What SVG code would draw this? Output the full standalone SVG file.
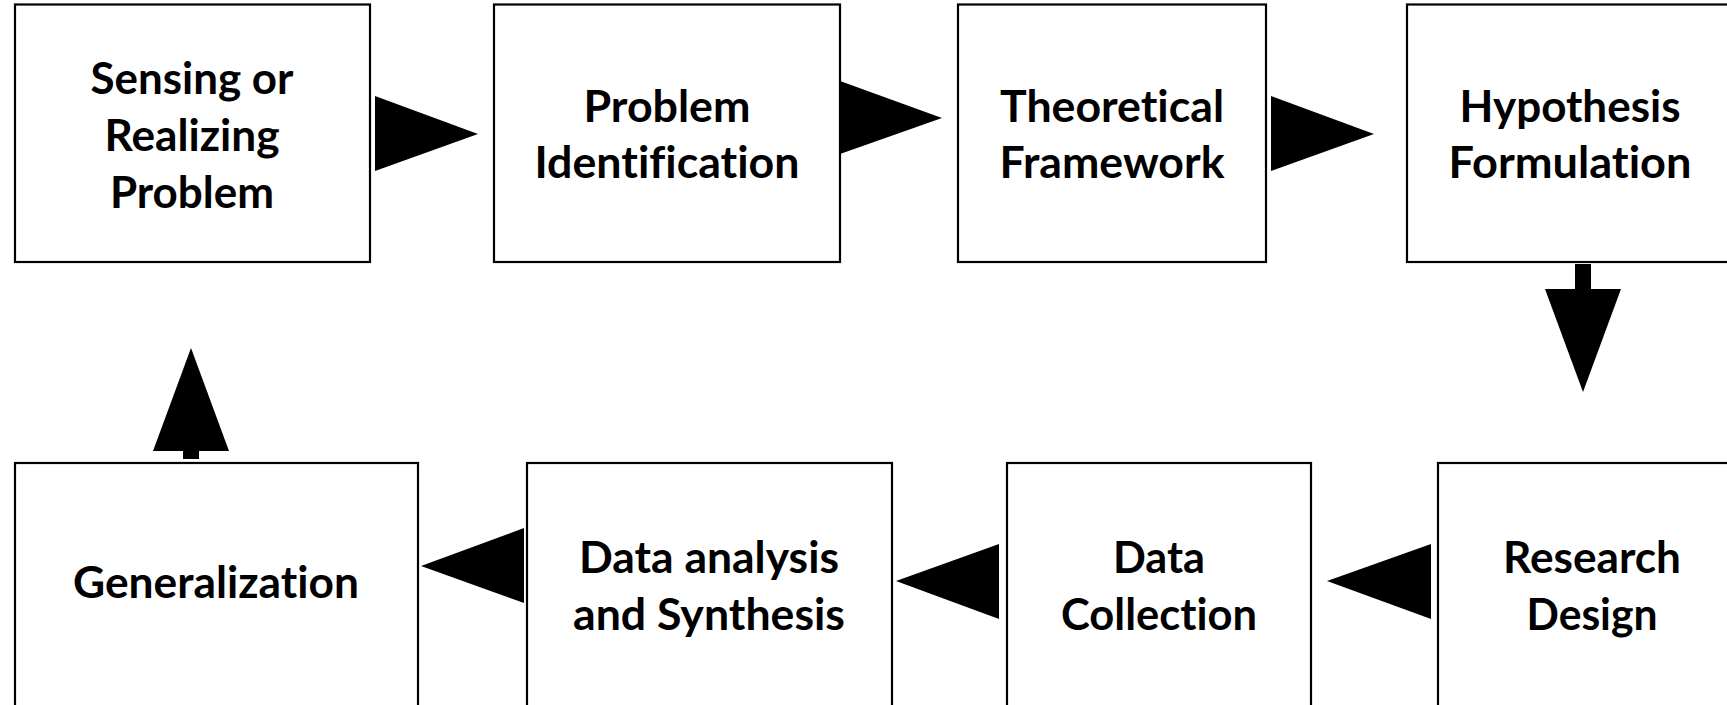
<svg xmlns="http://www.w3.org/2000/svg" width="1727" height="705" viewBox="0 0 1727 705">
<style>
.box{fill:#fff;stroke:#000;stroke-width:2.2}
.lbl{font-family:Lato,"Open Sans","Liberation Sans",sans-serif;font-weight:bold;font-size:43px;fill:#000;text-anchor:middle;font-variant-ligatures:none;font-feature-settings:"liga" 0,"clig" 0}
.arr{fill:#000;stroke:none}
</style>
<rect width="1727" height="705" fill="#fff"/>
<g id="node-sensing">
<rect class="box" x="15" y="4.5" width="355" height="257.5"/>
<text class="lbl" x="192" y="94" textLength="203" lengthAdjust="spacingAndGlyphs">Sensing or</text>
<text class="lbl" x="192" y="151" textLength="175" lengthAdjust="spacingAndGlyphs">Realizing</text>
<text class="lbl" x="192" y="208" textLength="164" lengthAdjust="spacingAndGlyphs">Problem</text>
</g>
<g id="node-identification">
<rect class="box" x="494" y="4.5" width="346" height="257.5"/>
<text class="lbl" x="667" y="122" textLength="167" lengthAdjust="spacingAndGlyphs">Problem</text>
<text class="lbl" x="667" y="178" textLength="265" lengthAdjust="spacingAndGlyphs">Identification</text>
</g>
<g id="node-theoretical">
<rect class="box" x="958" y="4.5" width="308" height="257.5"/>
<text class="lbl" x="1112" y="122" textLength="224" lengthAdjust="spacingAndGlyphs">Theoretical</text>
<text class="lbl" x="1112" y="178" textLength="225" lengthAdjust="spacingAndGlyphs">Framework</text>
</g>
<g id="node-hypothesis">
<rect class="box" x="1407" y="4.5" width="330" height="257.5"/>
<text class="lbl" x="1570" y="122" textLength="221" lengthAdjust="spacingAndGlyphs">Hypothesis</text>
<text class="lbl" x="1570" y="178" textLength="243" lengthAdjust="spacingAndGlyphs">Formulation</text>
</g>
<g id="node-generalization">
<rect class="box" x="15" y="463" width="403" height="262"/>
<text class="lbl" x="216" y="598" textLength="286" lengthAdjust="spacingAndGlyphs">Generalization</text>
</g>
<g id="node-analysis">
<rect class="box" x="527" y="463" width="365" height="262"/>
<text class="lbl" x="709" y="573" textLength="260" lengthAdjust="spacingAndGlyphs">Data analysis</text>
<text class="lbl" x="709" y="630" textLength="272" lengthAdjust="spacingAndGlyphs">and Synthesis</text>
</g>
<g id="node-collection">
<rect class="box" x="1007" y="463" width="304" height="262"/>
<text class="lbl" x="1159" y="573" textLength="92" lengthAdjust="spacingAndGlyphs">Data</text>
<text class="lbl" x="1159" y="630" textLength="196" lengthAdjust="spacingAndGlyphs">Collection</text>
</g>
<g id="node-design">
<rect class="box" x="1438" y="463" width="310" height="262"/>
<text class="lbl" x="1592" y="573" textLength="178" lengthAdjust="spacingAndGlyphs">Research</text>
<text class="lbl" x="1592" y="630" textLength="131" lengthAdjust="spacingAndGlyphs">Design</text>
</g>
<g id="connectors">
<polygon class="arr" points="375,96 478,134 375,171"/>
<polygon class="arr" points="840,81 942,118 840,154"/>
<polygon class="arr" points="1271,96 1374,134 1271,171"/>
<rect class="arr" x="1575" y="264" width="16" height="26"/>
<polygon class="arr" points="1545,289 1621,289 1583,392"/>
<polygon class="arr" points="524,528 421,566 524,603"/>
<polygon class="arr" points="999,544 896,581 999,619"/>
<polygon class="arr" points="1431,544 1327,581 1431,619"/>
<rect class="arr" x="183" y="450" width="16" height="9"/>
<polygon class="arr" points="153,451 229,451 191,348"/>
</g>
</svg>
